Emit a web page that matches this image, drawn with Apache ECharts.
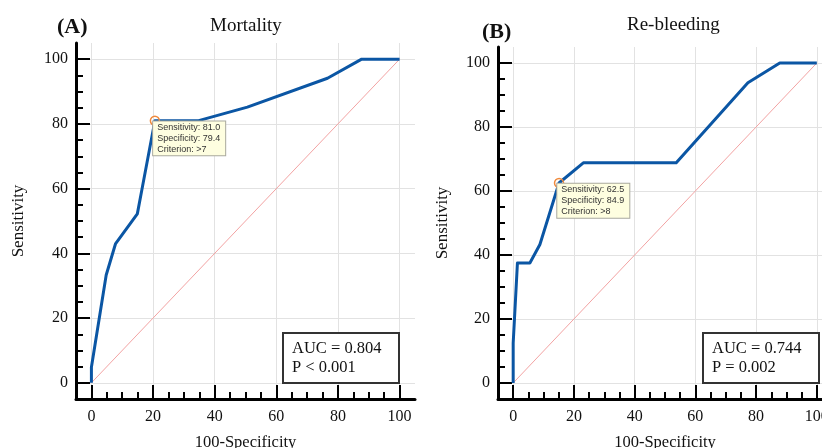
<!DOCTYPE html>
<html>
<head>
<meta charset="utf-8">
<script src="https://cdn.jsdelivr.net/npm/echarts@6.0.0/dist/echarts.min.js"></script>
<style>
html, body { margin: 0; padding: 0; background: #fff; }
#chart { width: 822px; height: 448px; }
</style>
</head>
<body>
<div id="chart"></div>
<script>
// ROC curves, [100-Specificity, Sensitivity]
const roc_mortality = [[0, 0], [0, 4.8], [0.6, 4.8], [4.8, 33.3], [7.8, 42.9], [14.9, 52.2], [16.3, 59.3],
    [20.6, 81.0], [34.8, 81.0], [50.6, 85.2], [76.6, 94.1], [87.7, 100], [100, 100]];
const roc_rebleeding = [[0, 0], [0, 12.5], [1.4, 37.5], [5.5, 37.5], [8.8, 43.3], [15.1, 62.5],
    [23.1, 68.8], [53.7, 68.8], [77.3, 93.8], [87.8, 100], [100, 100]];
const diagonal = [[0, 0], [100, 100]];

const panel_letters = ['(A)', '(B)'];
const panel_titles = ['Mortality', 'Re-bleeding'];
const auc_text = ['AUC = 0.804', 'AUC = 0.744'];
const p_text = ['P < 0.001', 'P = 0.002'];
// optimal cut-off points
const cut_sensitivity = [81.0, 62.5];
const cut_specificity = [79.4, 84.9];
const cut_criterion = ['>7', '>8'];

const major_ticks = [0, 20, 40, 60, 80, 100];
const minor_ticks = [5, 10, 15, 25, 30, 35, 45, 50, 55, 65, 70, 75, 85, 90, 95];

const serif = "'Liberation Serif', 'Times New Roman', serif";
const sans = "'Liberation Sans', Arial, sans-serif";
const roc_color = '#0b56a4';

// grid rectangles in pixels (axis range -5..105); panel B runs off the right edge
const grids = [
    {left: 76, top: 43, width: 339, height: 356, outerBoundsMode: 'none'},
    {left: 498, top: 47, width: 334, height: 352, outerBoundsMode: 'none'},
];
const y_name_gap = [49, 47];

const main_axis_temp = {
    type: 'value',
    min: -5,
    max: 105,
    interval: 5,
    gridIndex: 0,
    axisLine: {show: true, onZero: false, lineStyle: {color: '#000', width: 3}},
    axisTick: {show: true, inside: true, length: 14, customValues: major_ticks, lineStyle: {color: '#000', width: 2}},
    minorTick: {show: false},
    axisLabel: {show: true, customValues: major_ticks, margin: 8, fontSize: 16, fontFamily: serif, color: '#111'},
    splitLine: {show: true, lineStyle: {color: '#e2e2e2', width: 1}},
    nameLocation: 'middle',
    nameTextStyle: {fontSize: 16.5, fontFamily: serif, color: '#111'},
};
const minor_axis_temp = {
    type: 'value',
    min: -5,
    max: 105,
    interval: 5,
    gridIndex: 0,
    axisLine: {show: false, onZero: false},
    axisTick: {show: true, inside: true, length: 7, customValues: minor_ticks, lineStyle: {color: '#000', width: 2}},
    axisLabel: {show: false},
    splitLine: {show: false},
};

let option = {
    animation: false,
    backgroundColor: '#fff',
    title: [],
    grid: grids,
    xAxis: [],
    yAxis: [],
    series: [],
};

const rocs = [roc_mortality, roc_rebleeding];
for (let i = 0; i < 2; i++) {
    let x_main = structuredClone(main_axis_temp);
    x_main['gridIndex'] = i;
    x_main['position'] = 'bottom';
    x_main['name'] = '100-Specificity';
    x_main['nameGap'] = 35;
    x_main['axisLabel']['margin'] = 10;
    let x_minor = structuredClone(minor_axis_temp);
    x_minor['gridIndex'] = i;
    x_minor['position'] = 'bottom';
    let y_main = structuredClone(main_axis_temp);
    y_main['gridIndex'] = i;
    y_main['position'] = 'left';
    y_main['name'] = 'Sensitivity';
    y_main['nameGap'] = y_name_gap[i];
    y_main['nameTextStyle']['fontSize'] = 17;
    let y_minor = structuredClone(minor_axis_temp);
    y_minor['gridIndex'] = i;
    y_minor['position'] = 'left';
    option['xAxis'].push(x_main, x_minor);
    option['yAxis'].push(y_main, y_minor);

    option['series'].push({
        type: 'line',
        xAxisIndex: 2 * i,
        yAxisIndex: 2 * i,
        data: diagonal,
        symbol: 'none',
        silent: true,
        lineStyle: {color: '#f3a3a3', width: 1},
        z: 2,
    });
    option['series'].push({
        type: 'line',
        xAxisIndex: 2 * i,
        yAxisIndex: 2 * i,
        data: rocs[i],
        symbol: 'none',
        silent: true,
        lineStyle: {color: roc_color, width: 3, join: 'round'},
        z: 3,
        markPoint: {
            silent: true,
            symbol: 'circle',
            symbolSize: 9,
            itemStyle: {color: 'rgba(255,255,255,0)', borderColor: '#f08a3c', borderWidth: 1.5},
            label: {
                show: true,
                position: [3.5, 6],
                align: 'left',
                verticalAlign: 'top',
                fontFamily: sans,
                fontSize: 9,
                lineHeight: 11.3,
                color: '#333',
                backgroundColor: '#fefee0',
                borderColor: '#a9a99e',
                borderWidth: 1,
                padding: [0, 5, 0, 4],
                formatter: `Sensitivity: ${cut_sensitivity[i].toFixed(1)}\nSpecificity: ${cut_specificity[i].toFixed(1)}\nCriterion: ${cut_criterion[i]}`,
            },
            data: [{coord: [+(100 - cut_specificity[i]).toFixed(1), cut_sensitivity[i]]}],
        },
    });
}

// panel letters and titles
option['title'].push(
    {text: panel_letters[0], left: 57, top: 16, padding: 0,
        textStyle: {fontFamily: serif, fontSize: 22, lineHeight: 22, fontWeight: 'bold', color: '#111'}},
    {text: panel_titles[0], left: 210, top: 17, padding: 0,
        textStyle: {fontFamily: serif, fontSize: 19, lineHeight: 19, fontWeight: 'normal', color: '#111'}},
    {text: panel_letters[1], left: 482, top: 21, padding: 0,
        textStyle: {fontFamily: serif, fontSize: 22, lineHeight: 22, fontWeight: 'bold', color: '#111'}},
    {text: panel_titles[1], left: 627, top: 16, padding: 0,
        textStyle: {fontFamily: serif, fontSize: 19, lineHeight: 19, fontWeight: 'normal', color: '#111'}},
);
// AUC boxes
const auc_left = [283, 703];
for (let i = 0; i < 2; i++) {
    option['title'].push({
        text: `${auc_text[i]}\n${p_text[i]}`,
        left: auc_left[i],
        top: 333,
        padding: [6, 18, 6, 9],
        borderColor: '#333',
        borderWidth: 2,
        backgroundColor: '#fff',
        textStyle: {fontFamily: serif, fontSize: 16.5, lineHeight: 19, fontWeight: 'normal', color: '#111'},
    });
}

const chart = echarts.init(document.getElementById('chart'), null, {renderer: 'canvas'});
chart.setOption(option);
</script>
</body>
</html>
